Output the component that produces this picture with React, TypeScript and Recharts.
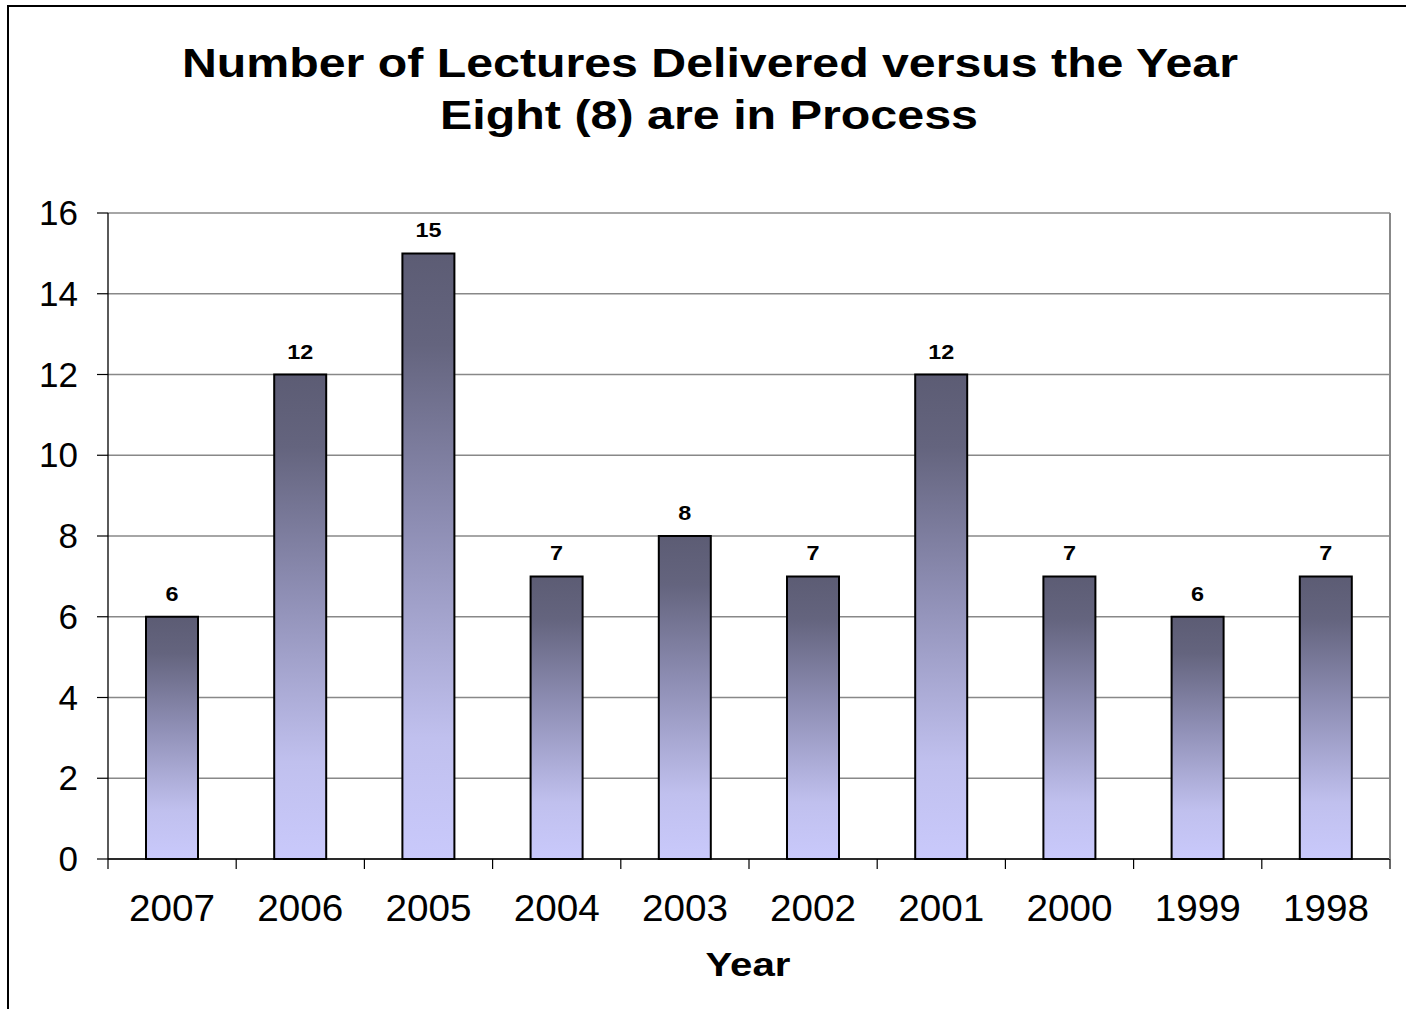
import React from "react";
import { BarChart, Bar, XAxis, YAxis, CartesianGrid, LabelList } from "recharts";

const years = ["2007", "2006", "2005", "2004", "2003", "2002", "2001", "2000", "1999", "1998"];
const lectures = [6, 12, 15, 7, 8, 7, 12, 7, 6, 7];
const yTicks = [0, 2, 4, 6, 8, 10, 12, 14, 16];
const titleLine1 = "Number of Lectures Delivered versus the Year";
const titleLine2 = "Eight (8) are in Process";
const xAxisTitle = "Year";

const data = years.map((y, i) => ({ year: y, value: lectures[i] }));

const W = 1406;
const H = 1009;
const PLOT_LEFT = 108;
const PLOT_RIGHT = 1390;
const FONT = "'Liberation Sans', Arial, Helvetica, sans-serif";
const BAND = (PLOT_RIGHT - PLOT_LEFT) / years.length;

const XTick = (props: any) => {
  const { x, y, payload, index } = props;
  const half = BAND / 2;
  return (
    <g>
      <line x1={x - half} y1={y} x2={x - half} y2={y + 10} stroke="#000" strokeWidth={1.2} />
      {index === years.length - 1 && (
        <line x1={x + half} y1={y} x2={x + half} y2={y + 10} stroke="#000" strokeWidth={1.2} />
      )}
      <text
        x={x}
        y={y + 62}
        textAnchor="middle"
        fontSize={36}
        fontFamily={FONT}
        fill="#000"
        textLength={86}
        lengthAdjust="spacingAndGlyphs"
      >
        {payload.value}
      </text>
    </g>
  );
};

const YTick = (props: any) => {
  const { x, y, payload } = props;
  return (
    <text x={x} y={y + 12} textAnchor="end" fontSize={35} fontFamily={FONT} fill="#000">
      {payload.value}
    </text>
  );
};

const ValueLabel = (props: any) => {
  const { x, y, width, value } = props;
  const s = String(value);
  return (
    <text
      x={x + width / 2}
      y={y - 16}
      textAnchor="middle"
      fontSize={20}
      fontWeight="bold"
      fontFamily={FONT}
      fill="#000"
      textLength={13 * s.length}
      lengthAdjust="spacingAndGlyphs"
    >
      {s}
    </text>
  );
};

export default function App() {
  return (
    <div style={{ position: "absolute", left: 0, top: 0, width: W, height: H, background: "#fff" }}>
      <svg width={W} height={H} style={{ position: "absolute", left: 0, top: 0 }}>
        <defs>
          <linearGradient id="barGrad" x1="0" y1="0" x2="0" y2="1">
            <stop offset="0%" stopColor="#5c5c74" />
            <stop offset="15%" stopColor="#64647e" />
            <stop offset="45%" stopColor="#8e8eb4" />
            <stop offset="80%" stopColor="#c0c0ee" />
            <stop offset="100%" stopColor="#c9c9fb" />
          </linearGradient>
        </defs>
        <rect x={8} y={6} width={1600} height={1200} fill="none" stroke="#000" strokeWidth={2} />
        <text
          x={710}
          y={77}
          textAnchor="middle"
          fontSize={40}
          fontWeight="bold"
          fontFamily={FONT}
          fill="#000"
          textLength={1056}
          lengthAdjust="spacingAndGlyphs"
        >
          {titleLine1}
        </text>
        <text
          x={709}
          y={129}
          textAnchor="middle"
          fontSize={40}
          fontWeight="bold"
          fontFamily={FONT}
          fill="#000"
          textLength={538}
          lengthAdjust="spacingAndGlyphs"
        >
          {titleLine2}
        </text>
        <text
          x={748}
          y={976}
          textAnchor="middle"
          fontSize={33}
          fontWeight="bold"
          fontFamily={FONT}
          fill="#000"
          textLength={85}
          lengthAdjust="spacingAndGlyphs"
        >
          {xAxisTitle}
        </text>
      </svg>
      <div style={{ position: "absolute", left: 0, top: 0 }}>
        <BarChart
          width={W}
          height={H}
          data={data}
          margin={{ top: 213, right: W - PLOT_RIGHT - 1, bottom: 70, left: PLOT_LEFT - 60 }}
          barSize={52}
        >
          <CartesianGrid horizontal vertical={false} stroke="#888888" strokeWidth={1.3} yAxisId="left" />
          <XAxis
            dataKey="year"
            tick={<XTick />}
            tickLine={false}
            tickSize={0}
            tickMargin={0}
            axisLine={{ stroke: "#000", strokeWidth: 1.3 }}
            height={80}
            interval={0}
          />
          <YAxis
            yAxisId="left"
            domain={[0, 16]}
            ticks={yTicks}
            width={60}
            tick={<YTick />}
            tickSize={11}
            tickMargin={19}
            tickLine={{ stroke: "#000", strokeWidth: 1.2 }}
            axisLine={{ stroke: "#000", strokeWidth: 1.3 }}
            interval={0}
          />
          <YAxis
            yAxisId="right"
            orientation="right"
            domain={[0, 16]}
            ticks={yTicks}
            width={1}
            tick={false}
            tickLine={false}
            axisLine={{ stroke: "#888888", strokeWidth: 2 }}
          />
          <Bar
            yAxisId="left"
            dataKey="value"
            fill="url(#barGrad)"
            stroke="#000"
            strokeWidth={2}
            isAnimationActive={false}
          >
            <LabelList dataKey="value" content={<ValueLabel />} />
          </Bar>
        </BarChart>
      </div>
    </div>
  );
}
